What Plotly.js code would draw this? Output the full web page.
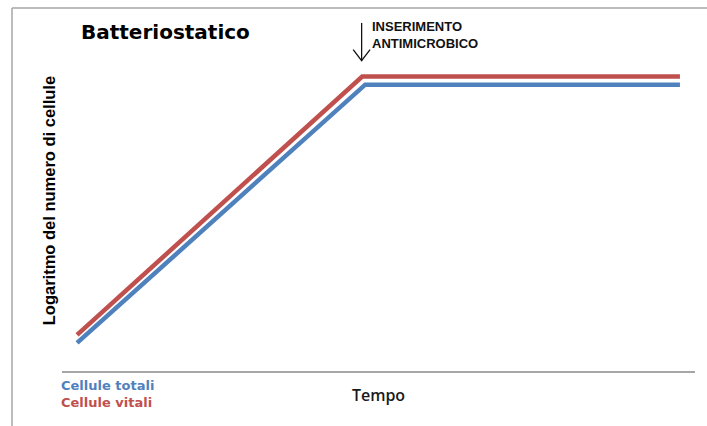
<!DOCTYPE html>
<html>
<head>
<meta charset="utf-8">
<script src="https://cdn.plot.ly/plotly-3.0.1.min.js"></script>
<style>html,body{margin:0;padding:0;background:#fff;}#chart{width:707px;height:426px;}</style>
</head>
<body>
<div id="chart"></div>
<script>
// Data (time in arbitrary units, log of cell number in arbitrary units)
var timeTotali = [0, 4.78, 10];
var logTotali  = [0.98, 10.0, 10.0];
var timeVitali = [0, 4.73, 10];
var logVitali  = [1.26, 10.28, 10.28];
var insertTime = 4.72;

var seriesNames = ['Cellule totali', 'Cellule vitali'];
var blue = '#4f81bd', red = '#c0504d';

var traces = [
  {x: timeTotali, y: logTotali, name: seriesNames[0], mode: 'lines',
   line: {color: blue, width: 4.5}, hoverinfo: 'skip'},
  {x: timeVitali, y: logVitali, name: seriesNames[1], mode: 'lines',
   line: {color: red, width: 4.5}, hoverinfo: 'skip'}
];

var layout = {
  width: 707, height: 426,
  margin: {l: 62, r: 12, t: 56, b: 55},
  paper_bgcolor: '#ffffff', plot_bgcolor: '#ffffff',
  showlegend: false,
  title: {text: '<b>Batteriostatico</b>', x: 81/707, xanchor: 'left', xref: 'container',
          y: 1 - 32/426, yanchor: 'middle', yref: 'container',
          font: {family: 'DejaVu Sans, Verdana, sans-serif', size: 20, color: '#000'}},
  xaxis: {range: [-0.25, 10.25], showgrid: false, zeroline: false, showticklabels: false,
          ticks: '', showline: true, linecolor: '#a6a6a6', linewidth: 2,
          title: {text: 'Tempo', standoff: 18,
                  font: {family: 'Open Sans, Liberation Sans, sans-serif', size: 16, weight: 600, color: '#1a1a1a'}}},
  yaxis: {range: [0, 11], showgrid: false, zeroline: false, showticklabels: false,
          ticks: '', showline: false},
  annotations: [
    {text: '<b>Logaritmo del numero di cellule</b>', xref: 'paper', yref: 'paper',
     x: -0.02, y: 0.54, xanchor: 'center', yanchor: 'middle', textangle: -90, showarrow: false,
     font: {family: 'Liberation Sans, Arial, sans-serif', size: 16.5, color: '#000'}},
    {text: '<b>INSERIMENTO<br>ANTIMICROBICO</b>', xref: 'x', yref: 'paper',
     x: insertTime + 0.14, y: 1.068, xanchor: 'left', yanchor: 'middle', align: 'left',
     showarrow: false,
     font: {family: 'Liberation Sans, Arial, sans-serif', size: 13, color: '#111'}},
    {text: '<b>' + seriesNames[0] + '</b>', xref: 'paper', yref: 'paper',
     x: -0.004, y: -0.045, xanchor: 'left', yanchor: 'middle', showarrow: false,
     font: {family: 'DejaVu Sans, Verdana, sans-serif', size: 13, color: blue}},
    {text: '<b>' + seriesNames[1] + '</b>', xref: 'paper', yref: 'paper',
     x: -0.004, y: -0.099, xanchor: 'left', yanchor: 'middle', showarrow: false,
     font: {family: 'DejaVu Sans, Verdana, sans-serif', size: 13, color: red}}
  ],
  shapes: [
    // frame (top and left)
    {type: 'line', xref: 'paper', yref: 'paper', x0: -0.079, x1: 1.03, y0: 1.152, y1: 1.152,
     line: {color: '#a6a6a6', width: 1.5}},
    {type: 'line', xref: 'paper', yref: 'paper', x0: -0.079, x1: -0.079, y0: 1.152, y1: -0.2,
     line: {color: '#a6a6a6', width: 1.5}},
    // arrow stem
    {type: 'line', xref: 'x', yref: 'paper', x0: insertTime, x1: insertTime, y0: 1.105, y1: 0.985,
     line: {color: '#111', width: 1.3}},
    // arrow head (open V)
    {type: 'path', xref: 'x', yref: 'paper',
     path: 'M ' + (insertTime - 0.14) + ',1.02 L ' + insertTime + ',0.985 L ' + (insertTime + 0.14) + ',1.02',
     line: {color: '#111', width: 1.3}}
  ]
};

Plotly.newPlot('chart', traces, layout, {displayModeBar: false, staticPlot: true});
</script>
</body>
</html>
